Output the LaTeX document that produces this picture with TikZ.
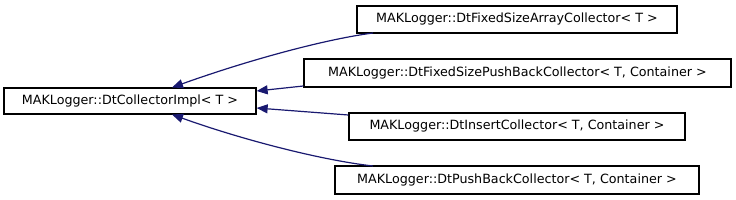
\documentclass[tikz,border=0pt]{standalone}
\usepackage{fontspec}
\setmainfont{DejaVu Sans}
\usetikzlibrary{arrows.meta}
\definecolor{edgeblue}{RGB}{25,25,112}
\begin{document}
\begin{tikzpicture}[x=1pt,y=1pt,
  cls/.style={draw=black,line width=1.3pt,fill=white,inner sep=0pt,font=\fontsize{12.7}{15}\selectfont,minimum height=27pt},
  inh/.style={draw=edgeblue,line width=1.2pt,{Triangle[length=11pt,width=9pt]}-}]
\useasboundingbox (0,0) rectangle (736,200);
\node[cls,minimum width=252pt,minimum height=26pt] (base) at (130,99) {MAKLogger::DtCollectorImpl< T >};
\node[cls,minimum width=320pt] (c1) at (517,180.5) {MAKLogger::DtFixedSizeArrayCollector< T >};
\node[cls,minimum width=427pt,minimum height=28pt] (c2) at (517.5,127) {MAKLogger::DtFixedSizePushBackCollector< T, Container >};
\node[cls,minimum width=336pt] (c3) at (517,73.5) {MAKLogger::DtInsertCollector< T, Container >};
\node[cls,minimum width=364pt,minimum height=28pt] (c4) at (517,20) {MAKLogger::DtPushBackCollector< T, Container >};
\draw[inh] (172,112.5) .. controls (240,137) and (320,160) .. (373,167);
\draw[inh] (base.east |- 0,109) -- (c2.west |- 0,114);
\draw[inh] (base.east |- 0,92) -- (c3.west |- 0,85);
\draw[inh] (172,85.5) .. controls (240,61) and (320,40) .. (373,34);
\end{tikzpicture}
\end{document}
